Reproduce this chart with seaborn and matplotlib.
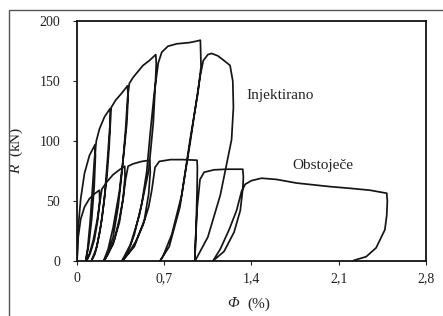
import matplotlib
matplotlib.use("Agg")
import matplotlib.pyplot as plt
from matplotlib.patches import Rectangle
import pandas as pd
import seaborn as sns

# %% data (drift in %, force in kN)
inj_phi = [0, 0.01, 0.03, 0.06, 0.1, 0.145,
           0.148, 0.138, 0.118, 0.095, 0.07,
           0.085, 0.105, 0.125, 0.14, 0.155, 0.18, 0.22, 0.265,
           0.268, 0.258, 0.24, 0.2, 0.16, 0.115,
           0.145, 0.185, 0.22, 0.245, 0.262, 0.275, 0.31, 0.36, 0.405,
           0.41, 0.4, 0.378, 0.34, 0.29, 0.25, 0.213,
           0.245, 0.29, 0.33, 0.365, 0.39, 0.405, 0.42, 0.45, 0.49, 0.53, 0.58, 0.632,
           0.636, 0.63, 0.612, 0.575, 0.5, 0.43, 0.36,
           0.4, 0.46, 0.52, 0.56, 0.586, 0.62, 0.652, 0.68, 0.73, 0.8, 0.9, 0.95, 0.99,
           0.995, 0.97, 0.907, 0.826, 0.74, 0.666,
           0.69, 0.76, 0.84, 0.91, 0.96, 0.99, 1.013, 1.05, 1.08, 1.13, 1.18, 1.228,
           1.25, 1.255, 1.24, 1.15, 1.05, 0.947]
inj_R = [0, 28, 52, 73, 88, 97,
         88, 62, 35, 14, 0,
         10, 32, 62, 85, 100, 110, 120, 127,
         116, 95, 70, 35, 12, 0,
         6, 25, 52, 85, 110, 128, 134, 140, 146,
         136, 115, 92, 58, 28, 10, 0,
         5, 20, 45, 78, 110, 135, 148, 153, 158, 163, 167, 172,
         165, 150, 115, 75, 38, 14, 0,
         5, 22, 48, 75, 105, 140, 165, 174, 179, 181, 182, 183, 184,
         162, 140, 101, 45, 12, 0,
         4, 22, 55, 100, 135, 155, 167, 172, 173, 171, 167, 163,
         150, 128, 101, 55, 20, 0]

obs_phi = [0, 0.01, 0.03, 0.06, 0.1, 0.14, 0.18,
           0.182, 0.168, 0.14, 0.105, 0.075,
           0.1, 0.13, 0.16, 0.185, 0.2, 0.24, 0.29, 0.34, 0.383,
           0.385, 0.37, 0.34, 0.29, 0.217,
           0.25, 0.3, 0.34, 0.37, 0.39, 0.41, 0.45, 0.52, 0.584,
           0.588, 0.575, 0.54, 0.46, 0.363,
           0.41, 0.47, 0.53, 0.575, 0.6, 0.626, 0.66, 0.75, 0.85, 0.963,
           0.966, 0.963, 0.957, 0.95, 0.945,
           0.95, 0.965, 0.987, 1.02, 1.1, 1.2, 1.33,
           1.335, 1.33, 1.31, 1.26, 1.18, 1.09,
           1.15, 1.22, 1.28, 1.32, 1.35, 1.4, 1.48, 1.6, 1.76, 2.03, 2.2, 2.35, 2.485,
           2.49, 2.485, 2.47, 2.4, 2.32, 2.22]
obs_R = [0, 20, 35, 45, 52, 56, 59,
         50, 35, 18, 6, 0,
         6, 17, 33, 50, 60, 66, 72, 76, 79,
         70, 52, 32, 14, 0,
         6, 18, 35, 52, 68, 79, 81, 83, 84,
         74, 56, 34, 12, 0,
         6, 16, 30, 45, 59, 78, 83, 84.5, 84.5, 84,
         78, 58, 34, 12, 0,
         15, 45, 68, 74, 76, 76.5, 76.5,
         70, 60, 42, 24, 8, 0,
         10, 26, 42, 58, 64, 67, 69, 68, 65, 62, 60.5, 59, 56.5,
         50, 38, 26, 11, 3.6, 0.5]

x_ticks = [0, 0.7, 1.4, 2.1, 2.8]
x_tick_labels = ["0", "0,7", "1,4", "2,1", "2,8"]
y_ticks = [0, 50, 100, 150, 200]

# %%
sns.set_style("ticks")
plt.rcParams["font.family"] = ["Liberation Serif", "DejaVu Serif"]
plt.rcParams["mathtext.fontset"] = "custom"
plt.rcParams["mathtext.rm"] = "Liberation Serif"
plt.rcParams["mathtext.it"] = "Liberation Serif:italic"

df = pd.concat([
    pd.DataFrame({"phi": inj_phi, "R": inj_R, "series": "Injektirano"}),
    pd.DataFrame({"phi": obs_phi, "R": obs_R, "series": "Obstoječe"}),
], ignore_index=True)

fig = plt.figure(figsize=(4.43, 3.16), dpi=100)
ax = fig.add_axes([0.1738, 0.174, 0.7878, 0.7595])

sns.lineplot(data=df, x="phi", y="R", hue="series", palette=["#151515", "#151515"],
             sort=False, estimator=None, legend=False, lw=1.25, ax=ax)

ax.set_xlim(0, 2.8)
ax.set_ylim(0, 200)
ax.set_xticks(x_ticks)
ax.set_xticklabels(x_tick_labels)
ax.set_yticks(y_ticks)
ax.tick_params(axis="both", direction="out", length=3, width=0.8, labelsize=10, colors="#222")
ax.tick_params(axis="y", pad=9)
ax.tick_params(axis="x", pad=5)
for s in ax.spines.values():
    s.set_visible(True)
    s.set_linewidth(1.3)
    s.set_color("#111")

# axis labels (italic symbol + upright unit)
ax.set_xlabel("")
ax.text(0.465, -0.15, "Φ", style="italic", fontsize=11, ha="right", va="top",
        color="#222", transform=ax.transAxes)
ax.text(0.487, -0.15, "(%)", fontsize=11, ha="left", va="top",
        color="#222", transform=ax.transAxes)
ax.set_ylabel("$\\mathit{R}$  (kN)", fontsize=11, color="#222")
ax.yaxis.set_label_coords(-0.15, 0.46)

ax.text(1.36, 138, "Injektirano", fontsize=11, va="center", ha="left", color="#222")
ax.text(1.73, 80, "Obstoječe", fontsize=11, va="center", ha="left", color="#222")

# outer frame of the scanned figure
fig.add_artist(Rectangle((9 / 443, -0.05), 1.0, 1.018, transform=fig.transFigure,
                         fill=False, ec="#555", lw=1.0))

fig.savefig("out.png", dpi=100)
